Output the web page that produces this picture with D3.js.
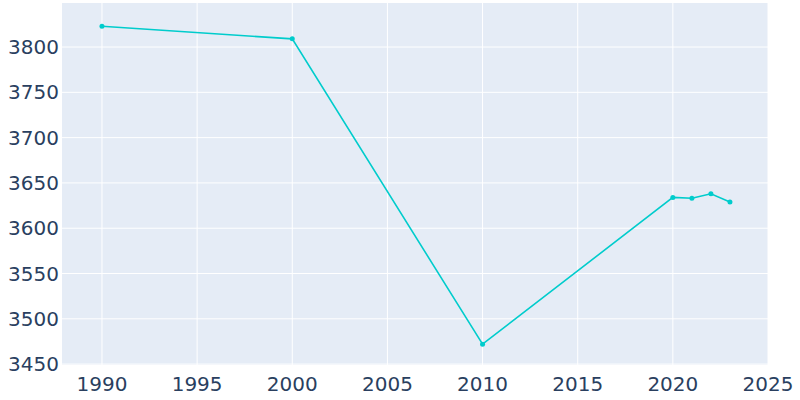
<!DOCTYPE html>
<html><head><meta charset="utf-8">
<script src="https://cdn.jsdelivr.net/npm/d3@7"></script>
<style>body{margin:0;background:#fff}</style></head>
<body><svg id="c" width="800" height="400"></svg>
<script>
const years = [1990, 2000, 2010, 2020, 2021, 2022, 2023];
const population = [3823, 3809, 3472, 3634, 3633, 3638, 3629];
const xTicks = [1990, 1995, 2000, 2005, 2010, 2015, 2020, 2025];
const yTicks = [3450, 3500, 3550, 3600, 3650, 3700, 3750, 3800];

const svg = d3.select("#c");
const m = {l: 62, r: 32, t: 3, b: 35};
const W = 800, H = 400;
const x = d3.scaleLinear().domain([1987.9, 2025]).range([m.l, W - m.r]);
const y = d3.scaleLinear().domain([3449, 3848.6]).range([H - m.b, m.t]);

svg.append("rect").attr("x", m.l).attr("y", m.t).attr("width", W - m.r - m.l).attr("height", H - m.b - m.t).attr("fill", "#e5ecf6");
svg.append("g").selectAll("line").data(xTicks).join("line")
  .attr("x1", d => x(d)).attr("x2", d => x(d)).attr("y1", m.t).attr("y2", H - m.b)
  .attr("stroke", "#fff").attr("stroke-width", 1);
svg.append("g").selectAll("line").data(yTicks).join("line")
  .attr("y1", d => y(d)).attr("y2", d => y(d)).attr("x1", m.l).attr("x2", W - m.r)
  .attr("stroke", "#fff").attr("stroke-width", 1);

const font = "'DejaVu Sans', sans-serif";
svg.append("g").selectAll("text").data(xTicks).join("text")
  .attr("x", d => x(d)).attr("y", 391).attr("text-anchor", "middle")
  .attr("font-family", font).attr("font-size", 20).attr("fill", "#2a3f5f").text(d => d);
svg.append("g").selectAll("text").data(yTicks).join("text")
  .attr("x", 59).attr("y", d => y(d) + 7).attr("text-anchor", "end")
  .attr("font-family", font).attr("font-size", 20).attr("fill", "#2a3f5f").text(d => d);

const pts = years.map((d, i) => [d, population[i]]);
svg.append("path").datum(pts)
  .attr("d", d3.line().x(d => x(d[0])).y(d => y(d[1])))
  .attr("fill", "none").attr("stroke", "#00cccc").attr("stroke-width", 1.6);
svg.append("g").selectAll("circle").data(pts).join("circle")
  .attr("cx", d => x(d[0])).attr("cy", d => y(d[1])).attr("r", 2.5).attr("fill", "#00cccc");
</script></body></html>
